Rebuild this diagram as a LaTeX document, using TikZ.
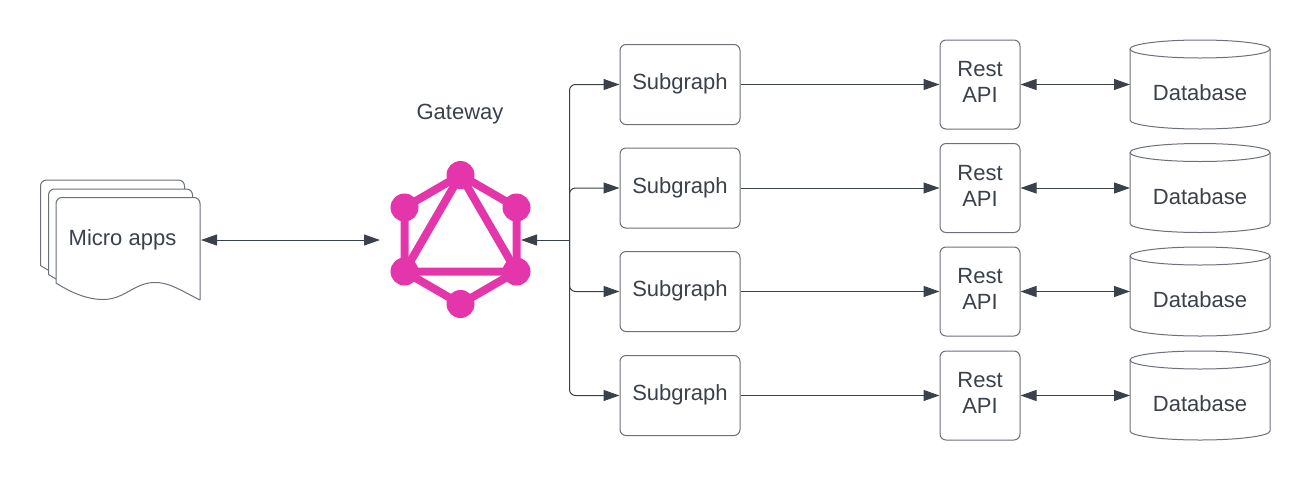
\documentclass[tikz,border=0pt]{standalone}
\usepackage{fontspec}
\setmainfont{Liberation Sans}
\usetikzlibrary{arrows.meta}
\definecolor{ink}{HTML}{3A414A}
\definecolor{edge}{HTML}{6B7079}
\definecolor{gql}{HTML}{E535AB}
\tikzset{
  x=1pt,y=-1pt,
  lab/.style={text=ink,font=\fontsize{22}{26}\selectfont,inner sep=0pt,align=center},
  boxed/.style={draw=edge,line width=1pt,fill=white,rounded corners=6pt,inner sep=0pt,lab},
  anchorbox/.style={inner sep=0pt,outer sep=0pt},
  link/.style={draw=ink,line width=1pt,-{Triangle[length=16pt,width=11pt]}},
  dlink/.style={draw=ink,line width=1pt,{Triangle[length=16pt,width=11pt]}-{Triangle[length=16pt,width=11pt]}},
  tree/.style={link,rounded corners=6pt},
  docshape/.style={draw=edge,line width=1pt,fill=white,line join=round},
  cyl/.style={draw=edge,line width=1pt,fill=white},
  gqlline/.style={draw=gql,line width=8pt},
  gqldot/.style={fill=gql,circle,minimum size=28pt,inner sep=0pt},
}
\newcommand{\docat}[2]{%
  \draw[docshape] (#1,#2+85.5) -- (#1,#2+6) arc[start angle=180,end angle=270,radius=6] -- (#1+138,#2) arc[start angle=-90,end angle=0,radius=6] -- (#1+144,#2+102.5)
    .. controls (#1+125,#2+93) and (#1+112,#2+84) .. (#1+97,#2+85)
    .. controls (#1+78,#2+86) and (#1+68,#2+102) .. (#1+47,#2+102)
    .. controls (#1+31,#2+102) and (#1+15,#2+95) .. (#1,#2+85.5) -- cycle;}
\begin{document}
\begin{tikzpicture}
\useasboundingbox (0,0) rectangle (1310,480);
% micro apps
\docat{40.5}{180}
\docat{48.5}{189}
\docat{56}{197.5}
\node[anchorbox,minimum width=144pt,minimum height=100pt] (micro) at (128,240) {};
\node[lab] (microlabel) at (122.5,239.5) {Micro apps};
% gateway logo
\node[anchorbox,minimum width=141pt,minimum height=140pt] (gw) at (450.5,240) {};
\node[lab] (gwlabel) at (460,114) {Gateway};
\coordinate (gt) at (460.5,175);
\coordinate (gul) at (404.5,207.5);
\coordinate (gur) at (516.5,207.5);
\coordinate (gll) at (404.5,271.5);
\coordinate (glr) at (516.5,271.5);
\coordinate (gb) at (460.5,304);
\draw[gqlline,line join=round] (gt) -- (gur) -- (glr) -- (gb) -- (gll) -- (gul) -- cycle;
\draw[gqlline,line join=round] (gt) -- (glr) -- (gll) -- cycle;
\foreach \p in {gt,gul,gur,gll,glr,gb} \node[gqldot] at (\p) {};
\coordinate (junction) at (569.5,240);
% rows
\foreach \i/\y in {1/84.5,2/188,3/291.5,4/395.5}{
  \node[boxed,minimum width=120pt,minimum height=80pt] (sub\i) at (680,\y) {};
  \node[lab] (sublabel\i) at (680,\y-0.5) {Subgraph};
  \node[boxed,minimum width=80pt,minimum height=89pt] (rest\i) at (980,\y) {};
  \node[lab] (restlabel\i) at (980,\y-2.5) {Rest\\API};
  \draw[cyl] (1130,\y-35.5) -- (1130,\y+35.5) arc[start angle=180,end angle=0,x radius=70,y radius=9] -- (1270,\y-35.5);
  \draw[cyl] (1200,\y-35.5) ellipse[x radius=70,y radius=9];
  \node[anchorbox,minimum width=140pt,minimum height=89pt] (db\i) at (1200,\y) {};
  \node[lab] (dblabel\i) at (1200,\y+8.5) {Database};
  \draw[tree] (junction) |- (sub\i.west);
  \draw[link] (sub\i.east) -- (rest\i.west);
  \draw[dlink] (rest\i.east) -- (db\i.west);
}
\draw[dlink,shorten <=1pt] (micro.east) -- (gw.west);
\draw[link] (junction) -- (gw.east);
\end{tikzpicture}
\end{document}
